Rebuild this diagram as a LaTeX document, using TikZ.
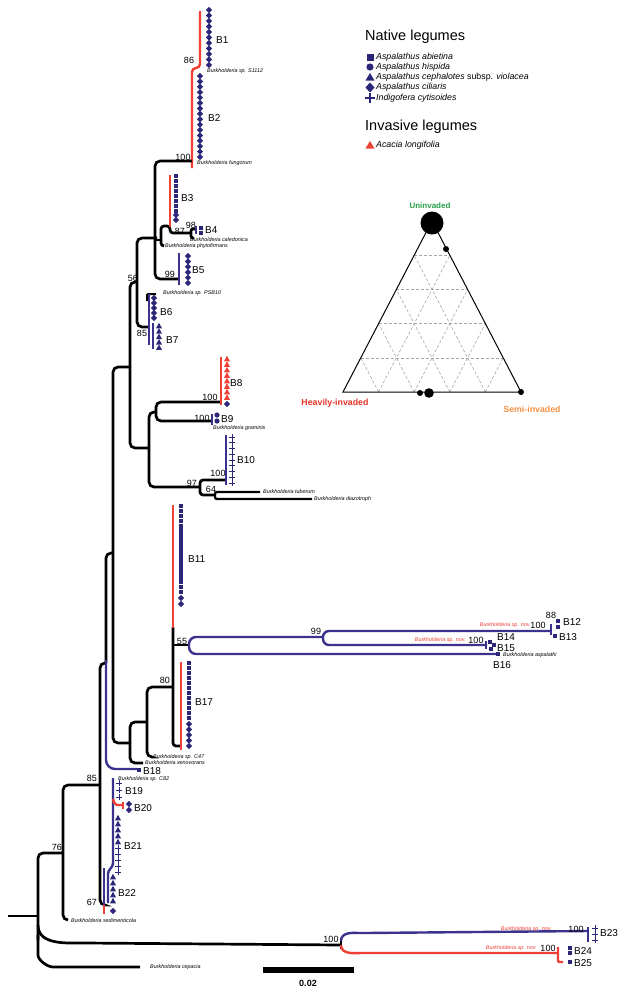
\documentclass[tikz,border=0pt]{standalone}
\usepackage{fontspec}
\setmainfont{Liberation Sans}
\usetikzlibrary{calc}
\definecolor{navy}{RGB}{44,38,120}
\definecolor{bline}{RGB}{58,50,140}
\definecolor{rline}{RGB}{238,64,54}
\definecolor{grn}{RGB}{40,160,75}
\definecolor{org}{RGB}{245,145,70}
\definecolor{hred}{RGB}{232,50,40}
\newcommand\Ssq[2]{\fill[navy,shift={(#1,#2)}] (-2.3,-2.3) rectangle (2.3,2.3);}
\newcommand\Sdi[2]{\fill[navy,shift={(#1,#2)}] (0,-3.1) -- (3.1,0) -- (0,3.1) -- (-3.1,0) -- cycle;}
\newcommand\Str[3][navy]{\fill[#1,shift={(#2,#3)}] (0,-3.2) -- (3,2.3) -- (-3,2.3) -- cycle;}
\newcommand\Sci[2]{\fill[navy] (#1,#2) circle (2.6);}
\newcommand\Scr[2]{\draw[navy,line width=0.9pt,shift={(#1,#2)}] (-2.6,0) -- (2.6,0) (0,-2.8) -- (0,2.8);}
\begin{document}
\begin{tikzpicture}[x=1pt,y=-1pt,
  br/.style={line width=2.7pt,rounded corners=5pt},
  bu/.style={bline,line width=2.4pt,rounded corners=5pt},
  rd/.style={rline,line width=2.4pt,rounded corners=4pt},
  bl/.style={font=\fontsize{10}{12}\selectfont,anchor=west,inner sep=0pt},
  bs/.style={font=\fontsize{9}{10}\selectfont,inner sep=0pt},
  sp/.style={font=\fontsize{5.4}{6}\selectfont\itshape,anchor=west,inner sep=0pt},
  spr/.style={sp,text=rline,anchor=east},
  lg/.style={font=\fontsize{8.8}{10}\selectfont,anchor=west,inner sep=0pt},
  lh/.style={font=\fontsize{14.5}{16}\selectfont,anchor=west,inner sep=0pt},
  gridl/.style={gray!70,line width=0.6pt,dash pattern=on 3pt off 2pt}]
\fill[white] (0,0) rectangle (621,989);
\useasboundingbox (0,0) rectangle (621,989);

% ---------------- top clade ----------------
\draw[rd] (200,11) |- (192,68) -- (192,168);
\draw[br] (192,161) -| (155,279) -- (179,279);
\draw[bu] (179,253) -- (179,285);
\draw[br] (155,240) -- (161,240);
\draw[br,rounded corners=3pt] (164,246) -| (161,226) -| (170,233) -- (191,233);
\draw[rd] (170,175) -- (170,227);
\draw[br,rounded corners=2pt] (195,229) -| (191,238) -- (194,238);
\draw[bline,line width=2pt] (196,226) -- (196,234);
\draw[br,line width=2pt,rounded corners=1pt] (147,301) |- (156,294);
\draw[br] (157,238) -| (137,327) -- (148,327);
\draw[br] (137,282) -| (130,448) -- (149,448);
\draw[bu] (149,294) -- (149,345);
\draw[bu] (153,323) -- (153,349);

% B8 - B10
\draw[br] (156,412) -| (149,487) -- (200,487);
\draw[br] (221,402) -| (156,421) -- (212,421);
\draw[rd] (221,357) -- (221,405);
\draw[bu] (212,414) -- (212,425);
\draw[br,rounded corners=3pt] (226,480) -| (200,495) -- (215,495);
\draw[br,line width=2.3pt,rounded corners=2pt] (260,492) -| (215,499) -- (312,499);
\draw[bu] (226,435) -- (226,485);

% big middle clade
\draw[br] (130,367) -| (113,743) -- (130,743);
\draw[br] (113,553) -| (106,663);
\draw[br] (106,663) -| (100,905) -- (104,905);
\draw[bu,rounded corners=9pt] (106,660) |- (137,769);
\draw[br] (147,722) -| (130,763) -- (143,763);
\draw[br] (173,687) -| (147,757) -- (151,757);
\draw[br,rounded corners=3pt] (173,627) |- (181,746);
\draw[br] (173,645) -- (190,645);
\draw[rd] (173,505) -- (173,628);
\draw[rd] (181,662) -- (181,750);

% blue loops
\draw[bu,rounded corners=7pt] (323,637) -- (189,637) -- (189,654) -- (497,654);
\draw[bu,rounded corners=6pt] (551,631) -- (323,631) -- (323,645) -- (487,645);
\draw[bline,line width=2pt] (551,624) -- (551,635);
\draw[bline,line width=2pt] (486,641) -- (486,649);

% lower clades
\draw[br] (99,785) -| (63,920) -- (68,920);
\draw[br] (63,853) -| (38,940);
\draw[br] (8,916) -- (38,916);
\draw[br] (38,925) to[out=-90,in=180] (85,943) -- (341,945);
\draw[br] (38,935) -- (38,950) to[out=-90,in=180] (58,967) -- (140,967);
\draw[line width=2pt] (341,938) -- (341,949);
\draw[bu] (341,941) to[out=90,in=180] (365,933) -- (588,931);
\draw[rd] (341,945) to[out=-90,in=180] (365,953) -- (558,953);
\draw[rd,rounded corners=1pt] (558,947) -- (558,962) -- (563,962);
\draw[bline,line width=2.2pt] (588,927) -- (588,942);
\draw[bu,rounded corners=3pt] (113,778) -- (113,866) -- (108,871) -- (108,903);
\draw[bu] (104,868) -- (104,906);
\draw[rd] (104,905) -- (104,914);
\draw[rd,rounded corners=2pt] (113,799) -- (115,805) -- (123,805);
\draw[rline,line width=1.8pt] (123,802) -- (123,809);

% scale bar
\draw[line width=6pt] (263,970) -- (354,970);
\node[font=\bfseries\fontsize{9}{10}\selectfont,inner sep=0pt] (scl) at (308,983) {0.02};

% ---------------- symbols ----------------
\foreach \k in {0,...,10} {\Sdi{209}{10+5.5*\k}}
\foreach \k in {0,...,15} {\Sdi{200}{76+5.4*\k}}
\foreach \k in {0,...,7} {\Ssq{176}{176+5*\k}}
\Sdi{176}{215} \Sdi{176}{220}
\Ssq{201}{228} \Ssq{201}{233}
\foreach \k in {0,...,5} {\Sdi{188}{256+5.4*\k}}
\foreach \k in {0,...,4} {\Sdi{154}{298+5*\k}}
\foreach \k in {0,...,4} {\Str{159}{326+5.4*\k}}
\foreach \k in {0,...,7} {\Str[rline]{227}{359+5.5*\k}}
\Sdi{227}{404}
\Sci{217}{415} \Sci{217}{421}
\foreach \k in {0,...,8} {\Scr{232}{437+5.75*\k}}
\foreach \k in {0,...,17} {\Ssq{181}{506+5.05*\k}}
\Sdi{181}{598} \Sdi{181}{604}
\foreach \k in {0,...,11} {\Ssq{189}{663+5*\k}}
\foreach \k in {0,...,4} {\Sdi{189}{724+5.5*\k}}
\Ssq{139}{770}
\foreach \k in {0,...,2} {\Scr{119}{783+7*\k}}
\Sdi{129}{804} \Sdi{129}{810}
\foreach \k in {0,...,4} {\Str{118}{818+6*\k}}
\foreach \k in {0,...,4} {\Scr{118}{848+6*\k}}
\foreach \k in {0,...,4} {\Str{113}{877+6*\k}}
\Sdi{113}{911}
\Ssq{558}{621} \Ssq{558}{627} \Ssq{555}{636}
\Ssq{490}{642} \Ssq{494}{645} \Ssq{491}{649}
\Ssq{498}{654}
\Scr{595}{928} \Scr{595}{934} \Scr{595}{940}
\Ssq{570}{948} \Ssq{570}{953} \Ssq{570}{962}

% ---------------- clade labels ----------------
\node[bl] (lB1) at (216,40) {B1};
\node[bl] (lB2) at (208,118) {B2};
\node[bl] (lB3) at (181,198) {B3};
\node[bl] (lB4) at (205,230) {B4};
\node[bl] (lB5) at (192,270) {B5};
\node[bl] (lB6) at (160,312) {B6};
\node[bl] (lB7) at (166,340) {B7};
\node[bl] (lB8) at (230,383) {B8};
\node[bl] (lB9) at (221,419) {B9};
\node[bl] (lB10) at (237,460) {B10};
\node[bl] (lB11) at (188,559) {B11};
\node[bl] (lB12) at (563,622) {B12};
\node[bl] (lB13) at (559,637) {B13};
\node[bl] (lB14) at (497,637) {B14};
\node[bl] (lB15) at (497,648) {B15};
\node[bl] (lB16) at (493,665) {B16};
\node[bl] (lB17) at (195,702) {B17};
\node[bl] (lB18) at (143,771) {B18};
\node[bl] (lB19) at (125,791) {B19};
\node[bl] (lB20) at (134,808) {B20};
\node[bl] (lB21) at (124,846) {B21};
\node[bl] (lB22) at (118,893) {B22};
\node[bl] (lB23) at (600,933) {B23};
\node[bl] (lB24) at (574,951) {B24};
\node[bl] (lB25) at (574,963) {B25};

% ---------------- support values ----------------
\node[bs] (s86) at (189,60) {86};
\node[bs] (s100a) at (183,157) {100};
\node[bs] (s87) at (180,231) {87};
\node[bs] (s98) at (191,225) {98};
\node[bs] (s99a) at (170,274) {99};
\node[bs] (s56) at (133,278) {56};
\node[bs] (s85a) at (142,333) {85};
\node[bs] (s100b) at (210,397) {100};
\node[bs] (s100c) at (202,418) {100};
\node[bs] (s100d) at (218,473) {100};
\node[bs] (s97) at (192,483) {97};
\node[bs] (s64) at (211,489) {64};
\node[bs] (s55) at (182,641) {55};
\node[bs] (s99b) at (316,631) {99};
\node[bs] (s80) at (165,680) {80};
\node[bs] (s88) at (551,615) {88};
\node[bs] (s100e) at (538,625) {100};
\node[bs] (s100f) at (476,640) {100};
\node[bs] (s85b) at (92,778) {85};
\node[bs] (s76) at (57,847) {76};
\node[bs] (s67) at (92,902) {67};
\node[bs] (s100g) at (331,939) {100};
\node[bs] (s100h) at (576,929) {100};
\node[bs] (s100i) at (548,948) {100};

% ---------------- species labels ----------------
\node[sp] (t1) at (207,71) {Burkholderia sp. S1112};
\node[sp] (t2) at (197,163) {Burkholderia fungorum};
\node[sp] (t3) at (190,240) {Burkholderia caledonica};
\node[sp] (t4) at (165,246) {Burkholderia phytofirmans};
\node[sp] (t5) at (163,293) {Burkholderia sp. PSB10};
\node[sp] (t6) at (213,428) {Burkholderia graminis};
\node[sp] (t7) at (263,492) {Burkholderia tuberum};
\node[sp] (t8) at (314,499) {Burkholderia diazotroph};
\node[spr] (t9) at (531,625) {Burkholderia sp. nov.};
\node[spr] (t10) at (466,640) {Burkholderia sp. nov.};
\node[sp] (t11) at (503,655) {Burkholderia aspalathi};
\node[sp] (t12) at (153,757) {Burkholderia sp. C47};
\node[sp] (t13) at (145,763) {Burkholderia xenovorans};
\node[sp] (t14) at (118,779) {Burkholderia sp. C82};
\node[sp] (t15) at (71,921) {Burkholderia sedimenticola};
\node[spr] (t16) at (552,929) {Burkholderia sp. nov.};
\node[spr] (t17) at (537,948) {Burkholderia sp. nov.};
\node[sp] (t18) at (150,967) {Burkholderia cepacia};

% ---------------- legend ----------------
\node[lh] (hnat) at (365,37) {Native legumes};
\fill[navy] (366.5,53.5) rectangle (373.5,60.5);
\node[lg] (g1) at (376,57) {\itshape Aspalathus abietina};
\fill[navy] (370,67) circle (3.6);
\node[lg] (g2) at (376,67) {\itshape Aspalathus hispida};
\fill[navy] (370,73) -- (374.5,80.5) -- (365.5,80.5) -- cycle;
\node[lg] (g3) at (376,77) {\textit{Aspalathus cephalotes} subsp. \textit{violacea}};
\fill[navy] (370,82.5) -- (374.5,87.5) -- (370,92.5) -- (365.5,87.5) -- cycle;
\node[lg] (g4) at (376,87.5) {\itshape Aspalathus ciliaris};
\draw[navy,line width=1.2pt] (364.5,98) -- (375,98) (370,93) -- (370,103);
\node[lg] (g5) at (376,98) {\itshape Indigofera cytisoides};
\node[lh] (hinv) at (365,127) {Invasive legumes};
\fill[rline] (370,141) -- (374.5,148.5) -- (365.5,148.5) -- cycle;
\node[lg] (g6) at (376,145) {\itshape Acacia longifolia};

% ---------------- ternary plot ----------------
\coordinate (A) at (432,221);
\coordinate (L) at (343,392);
\coordinate (R) at (521,392);
\foreach \t in {0.2,0.4,0.6,0.8} {
  \pgfmathsetmacro\u{1-\t}
  \draw[gridl] ($(A)!\t!(L)$) -- ($(A)!\t!(R)$);
  \draw[gridl] ($(L)!\t!(R)$) -- ($(R)!\u!(A)$);
  \draw[gridl] ($(L)!\t!(R)$) -- ($(L)!\t!(A)$);
}
\draw[line width=1pt] (A) -- (L) -- (R) -- cycle;
\fill (432,223) circle (11.5);
\fill (446,249) circle (3);
\fill (420,393) circle (3);
\fill (429,393) circle (4.8);
\fill (521,392) circle (3);
\node[font=\bfseries\fontsize{8}{9}\selectfont,text=grn,inner sep=0pt] (tu) at (430,206) {Uninvaded};
\node[font=\bfseries\fontsize{8.8}{10}\selectfont,text=hred,inner sep=0pt] (th) at (335,403) {Heavily-invaded};
\node[font=\bfseries\fontsize{8.8}{10}\selectfont,text=org,inner sep=0pt] (ts) at (532,409) {Semi-invaded};
\end{tikzpicture}
\end{document}
